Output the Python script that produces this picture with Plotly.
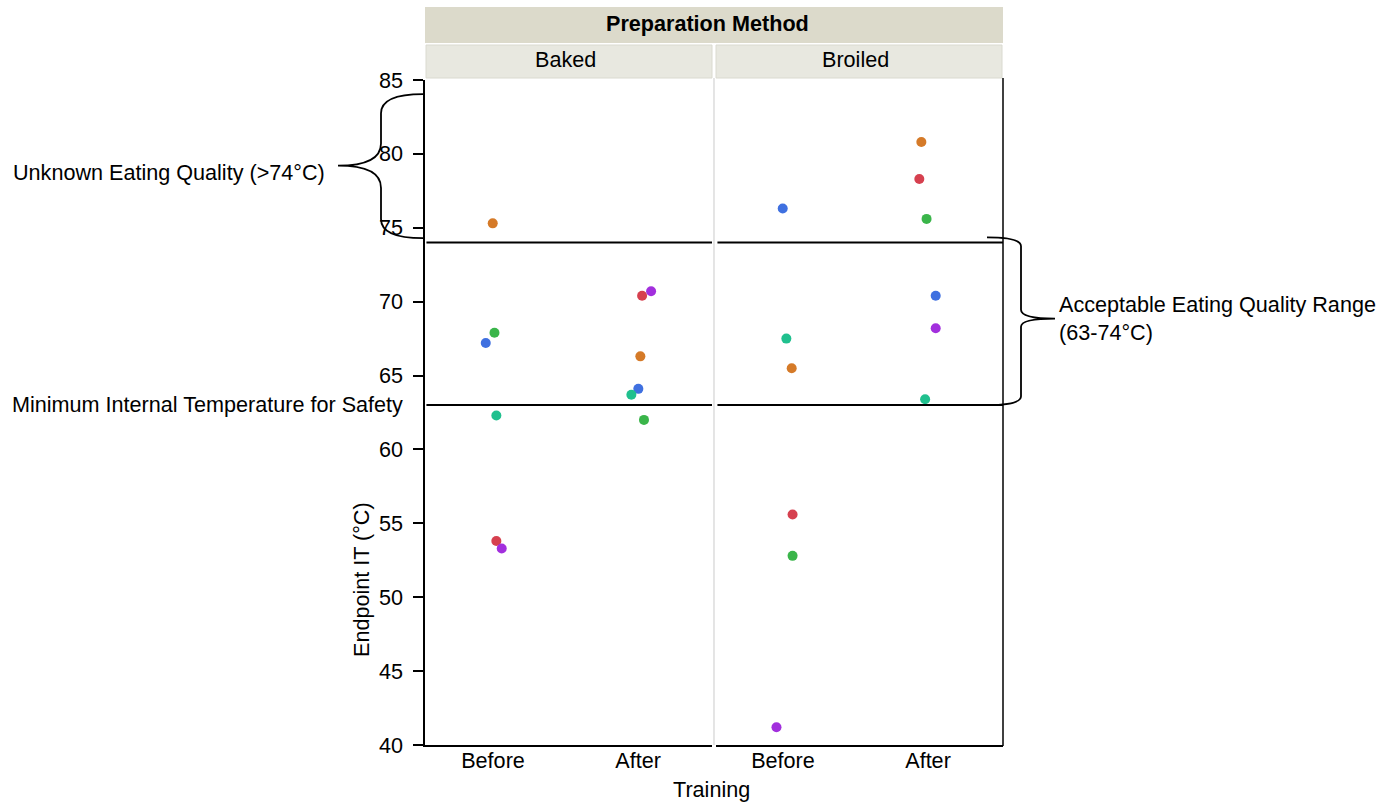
import plotly.graph_objects as go

W, H = 1388, 803

# ---------------- data ----------------
methods = ["Baked", "Broiled"]
training = ["Before", "After"]
subject_colors = ["#D57A28", "#D6404F", "#3AB54A", "#3F70E0", "#20C08E", "#A22FDD"]

baked_before = [75.3, 53.8, 67.9, 67.2, 62.3, 53.3]
baked_after = [66.3, 70.4, 62.0, 64.1, 63.7, 70.7]
broiled_before = [65.5, 55.6, 52.8, 76.3, 67.5, 41.2]
broiled_after = [80.8, 78.3, 75.6, 70.4, 63.4, 68.2]

# horizontal jitter (category units)
baked_before_jit = [-0.002, 0.023, 0.01, -0.05, 0.023, 0.06]
baked_after_jit = [0.016, 0.028, 0.041, 0.002, -0.046, 0.09]
broiled_before_jit = [0.06, 0.066, 0.066, -0.002, 0.023, -0.045]
broiled_after_jit = [-0.046, -0.06, -0.01, 0.053, -0.02, 0.053]

safety_min = 63
quality_max = 74
y_ticks = [40, 45, 50, 55, 60, 65, 70, 75, 80, 85]

FONT = "Liberation Sans, Arial, Helvetica, sans-serif"
FS = 21.6


def px(x):
    return x / W


def py(y):
    return 1 - y / H


fig = go.Figure()

panels = [
    ("x", [baked_before, baked_after], [baked_before_jit, baked_after_jit]),
    ("x2", [broiled_before, broiled_after], [broiled_before_jit, broiled_after_jit]),
]
for xref, vals, jits in panels:
    for s, col in enumerate(subject_colors):
        xs, ys = [], []
        for ti in range(len(training)):
            xs.append(ti + jits[ti][s])
            ys.append(vals[ti][s])
        fig.add_trace(go.Scatter(
            x=xs, y=ys, mode="markers", xaxis=xref, yaxis="y",
            marker=dict(color=col, size=10, line=dict(width=0)),
            showlegend=False, hoverinfo="y",
        ))

axis_common = dict(
    showgrid=False, zeroline=False, showline=True, linecolor="black",
    linewidth=1.5, automargin=False,
    tickfont=dict(family=FONT, size=FS, color="black"),
)

fig.update_layout(
    width=W, height=H, margin=dict(l=0, r=0, t=0, b=0, autoexpand=False),
    plot_bgcolor="white", paper_bgcolor="white",
    font=dict(family=FONT, size=FS, color="black"),
    xaxis=dict(domain=[px(425), px(712)], range=[-0.469, 1.51],
               tickvals=[0, 1], ticktext=training, ticks="", anchor="y",
               ticklabelstandoff=-5, **axis_common),
    xaxis2=dict(domain=[px(716), px(1003)], range=[-0.462, 1.517],
                tickvals=[0, 1], ticktext=training, ticks="", anchor="y",
                ticklabelstandoff=-5, **axis_common),
    yaxis=dict(domain=[py(745), py(80)], range=[40, 85], tickvals=y_ticks,
               ticks="outside", ticklen=10, tickwidth=1.5, tickcolor="black",
               ticklabelstandoff=6, anchor="x", **axis_common),
)

shapes = []
# strip headers
shapes.append(dict(type="rect", xref="paper", yref="paper",
                   x0=px(425), x1=px(1003), y0=py(43), y1=py(7),
                   fillcolor="#DCDACB", line=dict(width=0), layer="below"))
for x0, x1 in [(426, 712), (716, 1002)]:
    shapes.append(dict(type="rect", xref="paper", yref="paper",
                       x0=px(x0), x1=px(x1), y0=py(78), y1=py(45),
                       fillcolor="#E8E8E0", line=dict(color="#DADAD0", width=1),
                       layer="below"))
# panel divider and right border
shapes.append(dict(type="line", xref="paper", yref="paper",
                   x0=px(714), x1=px(714), y0=py(745), y1=py(78),
                   line=dict(color="#D3D3D3", width=1.2)))
shapes.append(dict(type="line", xref="paper", yref="paper",
                   x0=px(1003), x1=px(1003), y0=py(746), y1=py(78),
                   line=dict(color="black", width=1.5)))
# reference lines
for xd in ["x domain", "x2 domain"]:
    for v in [quality_max, safety_min]:
        shapes.append(dict(type="line", xref=xd, yref="y", x0=0.005, x1=1,
                           y0=v, y1=v, line=dict(color="black", width=2)))


def brace(x_end, x_v, x_tip, y_top, y_c1, y_tip, y_c2, y_bot, y_b1, y_b2):
    e, v, t = px(x_end), px(x_v), px(x_tip)
    return (f"M {e},{y_top} Q {v},{y_top} {v},{y_c1} L {v},{y_b1} "
            f"Q {v},{y_tip} {t},{y_tip} Q {v},{y_tip} {v},{y_b2} "
            f"L {v},{y_c2} Q {v},{y_bot} {e},{y_bot}")


# left brace: unknown eating quality (> 74)
shapes.append(dict(type="path", xref="paper", yref="y",
                   path=brace(423, 381, 338, 84.05, 82.75, 79.2, 75.6, 74.3, 80.7, 77.7),
                   line=dict(color="black", width=1.8)))
# right brace: acceptable range 63-74
shapes.append(dict(type="path", xref="paper", yref="y",
                   path=brace(987, 1021, 1055, 74.35, 73.75, 68.85, 63.6, 63.0, 69.45, 68.3),
                   line=dict(color="black", width=1.8)))

fig.update_layout(shapes=shapes)

ann = []
ann.append(dict(text="<b>Preparation Method</b>", xref="paper", yref="paper",
                x=px(708), y=py(23), xanchor="center", yanchor="middle",
                showarrow=False, font=dict(size=FS)))
for name, xc in zip(methods, [565, 855]):
    ann.append(dict(text=name, xref="paper", yref="paper", x=px(xc), y=py(60),
                    xanchor="center", yanchor="middle", showarrow=False,
                    font=dict(size=FS)))
ann.append(dict(text="Training", xref="paper", yref="paper", x=px(711), y=py(789),
                xanchor="center", yanchor="middle", showarrow=False,
                font=dict(size=FS)))
ann.append(dict(text="Endpoint IT (\u00b0C)", xref="paper", yref="paper",
                x=px(361), y=py(580), xanchor="center", yanchor="middle",
                textangle=-90, showarrow=False, font=dict(size=FS)))
ann.append(dict(text="Unknown Eating Quality (>74\u00b0C)", xref="paper", yref="paper",
                x=px(327), y=py(173), xanchor="right", yanchor="middle",
                showarrow=False, font=dict(size=FS)))
ann.append(dict(text="Minimum Internal Temperature for Safety", xref="paper", yref="paper",
                x=px(405), y=py(404), xanchor="right", yanchor="middle",
                showarrow=False, font=dict(size=FS)))
ann.append(dict(text="Acceptable Eating Quality Range<br>(63-74\u00b0C)", xref="paper",
                yref="paper", x=px(1057), y=py(318), xanchor="left", yanchor="middle",
                align="left", showarrow=False, font=dict(size=FS)))
fig.update_layout(annotations=ann)

fig.write_html("out.html")
